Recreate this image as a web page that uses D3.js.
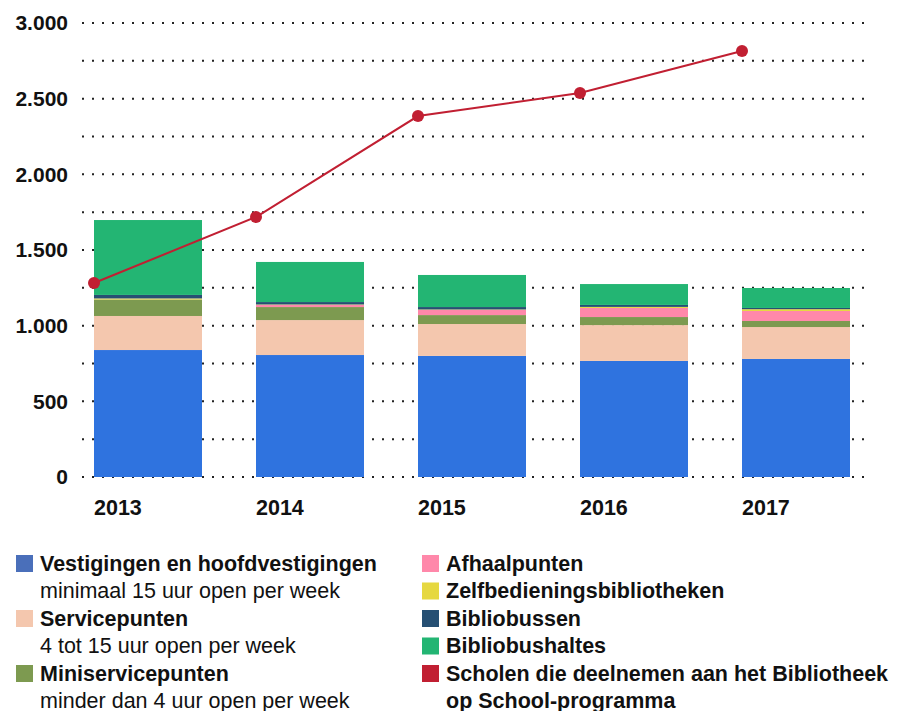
<!DOCTYPE html>
<html>
<head>
<meta charset="utf-8">
<script src="https://cdn.jsdelivr.net/npm/d3@7"></script>
<style>
  body { margin: 0; background: #fff; font-family: "Liberation Sans", Arial, sans-serif; }
  svg text { font-family: "Liberation Sans", Arial, sans-serif; }
</style>
</head>
<body>
<svg id="chart" width="902" height="711"></svg>
<script>
// data
const years = ["2013", "2014", "2015", "2016", "2017"];
const vestigingen = [839, 806, 800, 767, 780];
const servicepunten = [225, 231, 211, 237, 211];
const miniservicepunten = [109, 86, 59, 53, 40];
const afhaalpunten = [0, 14, 34, 60, 66];
const zelfbediening = [7, 3, 3, 7, 12];
const bibliobussen = [23, 16, 16, 13, 8];
const bibliobushaltes = [495, 265, 212, 138, 132];
const scholen = [1282, 1718, 2385, 2537, 2815];
const yTicks = [0, 500, 1000, 1500, 2000, 2500, 3000];
const gridTicks = [0, 250, 500, 750, 1000, 1250, 1500, 1750, 2000, 2250, 2500, 2750, 3000];

const seriesKeys = ["vest", "serv", "mini", "afh", "zelf", "bus", "halte"];
const seriesData = [vestigingen, servicepunten, miniservicepunten, afhaalpunten, zelfbediening, bibliobussen, bibliobushaltes];
const barColors = ["#2f73df", "#f4c7ae", "#7d9a50", "#ff88aa", "#e6d840", "#264f73", "#23b573"];

const legendItems = [
  {col: 0, row: 0, title: "Vestigingen en hoofdvestigingen", color: "#4a6fba"},
  {col: 0, row: 1, sub: "minimaal 15 uur open per week"},
  {col: 0, row: 2, title: "Servicepunten", color: "#f4c7ae"},
  {col: 0, row: 3, sub: "4 tot 15 uur open per week"},
  {col: 0, row: 4, title: "Miniservicepunten", color: "#7d9a50"},
  {col: 0, row: 5, sub: "minder dan 4 uur open per week"},
  {col: 1, row: 0, title: "Afhaalpunten", color: "#ff88aa"},
  {col: 1, row: 1, title: "Zelfbedieningsbibliotheken", color: "#e6d840"},
  {col: 1, row: 2, title: "Bibliobussen", color: "#264f73"},
  {col: 1, row: 3, title: "Bibliobushaltes", color: "#23b573"},
  {col: 1, row: 4, title: "Scholen die deelnemen aan het Bibliotheek", color: "#c11f32"},
  {col: 1, row: 5, sub: "op School-programma", bold: true}
];

const table = years.map((y, i) => {
  const row = {year: y};
  seriesKeys.forEach((k, j) => row[k] = seriesData[j][i]);
  return row;
});

const svg = d3.select("#chart");
const nl = d3.formatLocale({decimal: ",", thousands: ".", grouping: [3], currency: ["€", ""]});

const x = d3.scaleBand().domain(years).range([94, 850]).paddingInner(1 / 3).paddingOuter(0);
const y = d3.scaleLinear().domain([0, 3000]).range([477, 23]);

// dotted grid
svg.append("g").selectAll("line")
  .data(gridTicks)
  .join("line")
  .attr("x1", 82).attr("x2", 872)
  .attr("y1", d => y(d)).attr("y2", d => y(d))
  .attr("stroke", "#222")
  .attr("stroke-width", 2)
  .attr("stroke-dasharray", "2,8");

// y axis labels
const yAxis = svg.append("g")
  .attr("transform", "translate(74,0)")
  .call(d3.axisLeft(y).tickValues(yTicks).tickSize(0).tickPadding(6).tickFormat(nl.format(",")));
yAxis.select(".domain").remove();
yAxis.selectAll("text")
  .attr("fill", "#111")
  .style("font-size", "21px")
  .style("font-weight", "bold");

// stacked bars
const stack = d3.stack().keys(seriesKeys)(table);
svg.append("g").selectAll("g")
  .data(stack)
  .join("g")
  .attr("fill", (d, i) => barColors[i])
  .selectAll("rect")
  .data(d => d)
  .join("rect")
  .attr("x", d => x(d.data.year))
  .attr("width", x.bandwidth())
  .attr("y", d => y(d[1]))
  .attr("height", d => y(d[0]) - y(d[1]));

// x labels
svg.append("g").selectAll("text")
  .data(years)
  .join("text")
  .attr("x", d => x(d))
  .attr("y", 515)
  .attr("fill", "#111")
  .style("font-size", "21.5px")
  .style("font-weight", "bold")
  .text(d => d);

// line
const line = d3.line().x((d, i) => x(years[i])).y(d => y(d));
svg.append("path")
  .datum(scholen)
  .attr("d", line)
  .attr("fill", "none")
  .attr("stroke", "#c11f32")
  .attr("stroke-width", 2);
svg.append("g").selectAll("circle")
  .data(scholen)
  .join("circle")
  .attr("cx", (d, i) => x(years[i]))
  .attr("cy", d => y(d))
  .attr("r", 6)
  .attr("fill", "#c11f32");

// legend
const colX = [16, 422], rowY0 = 563, rowH = 27.5;
const leg = svg.append("g");
legendItems.forEach(it => {
  const cy = rowY0 + it.row * rowH;
  if (it.color) {
    leg.append("rect")
      .attr("x", colX[it.col]).attr("y", cy - 8)
      .attr("width", 17).attr("height", 17)
      .attr("fill", it.color);
  }
  leg.append("text")
    .attr("x", colX[it.col] + 24)
    .attr("y", cy + 7.5)
    .attr("fill", "#111")
    .style("font-size", "21.5px")
    .style("font-weight", (it.title || it.bold) ? "bold" : "normal")
    .text(it.title || it.sub);
});
</script>
</body>
</html>
